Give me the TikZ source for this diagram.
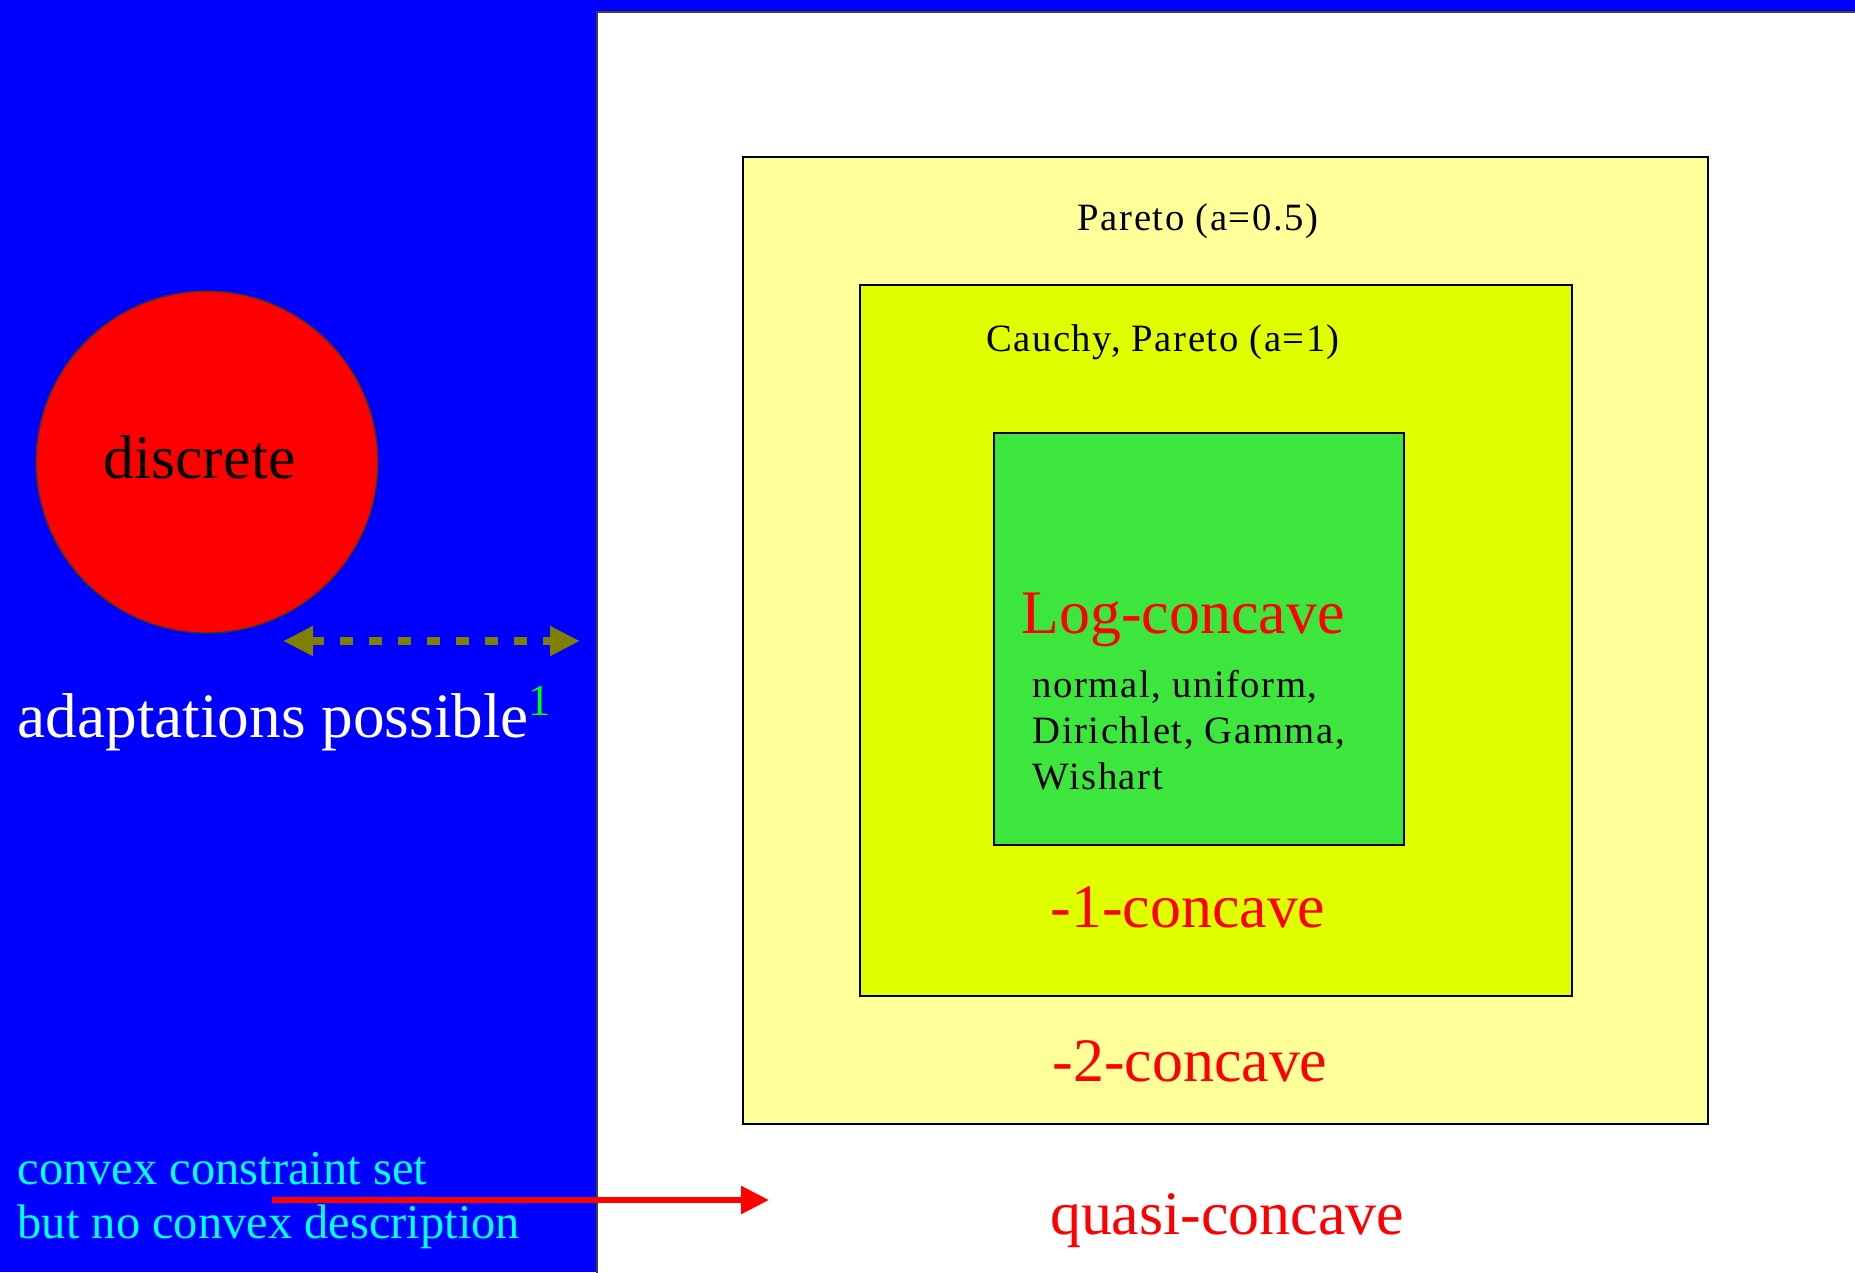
\documentclass[tikz,border=0pt]{standalone}
\usepackage{fontspec}
\setmainfont{Liberation Serif}
\newfontfamily\spacedfont[LetterSpace=4]{Liberation Serif}
\usetikzlibrary{arrows.meta,positioning,calc}
\usepackage{xcolor}
\definecolor{cvBlue}{HTML}{0000FF}
\definecolor{cvPale}{HTML}{FFFF99}
\definecolor{cvLime}{HTML}{DFFF00}
\definecolor{cvGreen}{HTML}{3CE63C}
\definecolor{cvRed}{HTML}{FF0000}
\definecolor{cvOlive}{HTML}{808000}
\definecolor{cvCyan}{HTML}{00FFFF}
\definecolor{cvSup}{HTML}{00FF00}
\tikzset{
  setbox/.style={draw=black, line width=0.8pt},
  bigtxt/.style={inner sep=0pt, font=\fontsize{17.6}{20}\selectfont},
  redtxt/.style={bigtxt, text=cvRed},
  smalltxt/.style={inner sep=0pt, font=\fontsize{11}{13.1}\spacedfont, align=left},
  cyantxt/.style={inner sep=0pt, font=\fontsize{13.8}{15.4}\selectfont, text=cvCyan, align=left},
  darr/.style={{Triangle[length=3mm,width=2.8mm]}-{Triangle[length=3mm,width=2.8mm]}, cvOlive, line width=0.8mm, dash pattern=on 1.3mm off 1.6mm},
  rarr/.style={-{Triangle[length=2.8mm,width=2.7mm]}, cvRed, line width=0.55mm},
}
\begin{document}
\begin{tikzpicture}[x=1cm,y=-1cm]
  \useasboundingbox (0,0) rectangle (18.55,12.72);
  % background
  \fill[cvBlue] (0,0) rectangle (18.55,12.72);
  \filldraw[fill=white, draw=black!75, line width=0.8pt] (5.97,12.9) -- (5.97,0.12) -- (18.7,0.12) -- (18.7,12.9) -- cycle;
  % nested sets
  \filldraw[setbox, fill=cvPale] (7.43,1.57) rectangle (17.08,11.24);
  \filldraw[setbox, fill=cvLime] (8.60,2.85) rectangle (15.72,9.96);
  \filldraw[setbox, fill=cvGreen] (9.94,4.33) rectangle (14.04,8.45);
  \node[smalltxt] (pareto) at (11.98,2.21) {Pareto (a=0.5)};
  \node[smalltxt] (cauchy) at (11.63,3.42) {Cauchy, Pareto (a=1)};
  \node[redtxt] (logc) at (11.83,6.20) {Log-concave};
  \node[smalltxt, anchor=west] (logex) at (10.32,7.30) {normal, uniform,\\Dirichlet, Gamma,\\Wishart};
  \node[redtxt] (onec) at (11.88,9.07) {-1-concave};
  \node[redtxt] (twoc) at (11.90,10.61) {-2-concave};
  \node[redtxt] (quasic) at (12.27,12.21) {quasi-concave};
  % left panel
  \node[circle, fill=cvRed, draw=black!80, line width=0.4pt, minimum size=3.42cm, inner sep=0pt] (discr) at (2.07,4.62) {};
  \node[bigtxt, anchor=base] (discrtxt) at (1.995,4.78) {discrete};
  \coordinate (dl) at (2.83,6.41);
  \coordinate (dr) at (5.80,6.41);
  \draw[darr] (dl) -- (dr);
  \node[bigtxt, text=white, anchor=west, font=\fontsize{18}{20}\selectfont] (adapt) at (0.17,7.19) {adaptations possible\textsuperscript{\color{cvSup}1}};
  \node[cyantxt, anchor=west] (cvxset) at (0.17,12.01) {convex constraint set\\but no convex description};
  \coordinate (rl) at (2.72,12.00);
  \coordinate (rr) at (7.69,12.00);
  \draw[rarr] (rl) -- (rr);
\end{tikzpicture}
\end{document}
